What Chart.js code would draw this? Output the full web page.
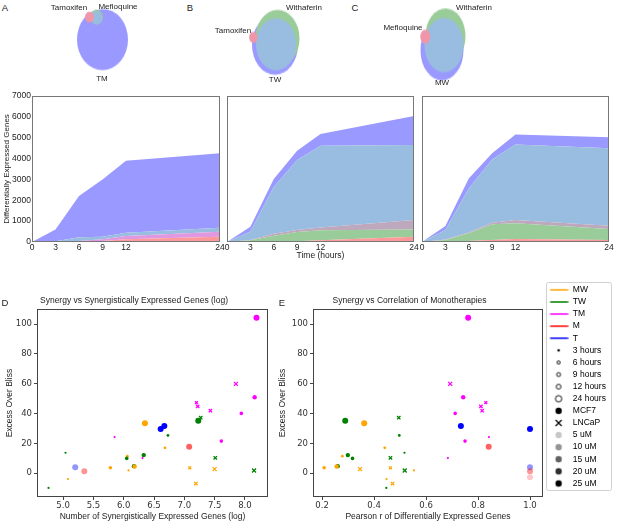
<!DOCTYPE html>
<html>
<head>
<meta charset="utf-8">
<title>Synergy figure</title>
<script src="https://cdn.jsdelivr.net/npm/chart.js@4.4.1/dist/chart.umd.min.js"></script>
<style>
  html, body { margin: 0; padding: 0; background: #fff; }
  body { position: relative; width: 617px; height: 525px; overflow: hidden;
         font-family: 'Liberation Sans', Arial, sans-serif; color: #222; }
  canvas { position: absolute; }
  .venn { position: absolute; transform-origin: 0 0; }
  .venn canvas { position: static; display: block; }
  .txt { position: absolute; transform: translate(-50%, -50%); white-space: nowrap; font-size: 8px; }
  .panel { font-size: 9.5px; }
</style>
</head>
<body>

<div class="venn" id="vennA"><canvas></canvas></div>
<div class="venn" id="vennB"><canvas></canvas></div>
<div class="venn" id="vennC"><canvas></canvas></div>

<canvas id="areaTM" width="232" height="175" style="left:0;top:88px"></canvas>
<canvas id="areaTW" width="211" height="175" style="left:215px;top:88px"></canvas>
<canvas id="areaMW" width="211" height="175" style="left:410px;top:88px"></canvas>

<canvas id="scatterGenes" width="275" height="232" style="left:0;top:293px"></canvas>
<canvas id="scatterPearson" width="275" height="232" style="left:276px;top:293px"></canvas>
<canvas id="legendBox" width="140" height="212" style="left:545px;top:282px"></canvas>

<div class="txt panel" style="left:5px;top:7px">A</div>
<div class="txt panel" style="left:190px;top:7px">B</div>
<div class="txt panel" style="left:355px;top:7px">C</div>
<div class="txt panel" style="left:5px;top:302px">D</div>
<div class="txt panel" style="left:282px;top:302px">E</div>

<div class="txt" style="left:69px;top:7px">Tamoxifen</div>
<div class="txt" style="left:118px;top:6px">Mefloquine</div>
<div class="txt" style="left:102px;top:78px">TM</div>
<div class="txt" style="left:304px;top:7px">Withaferin</div>
<div class="txt" style="left:233px;top:30px">Tamoxifen</div>
<div class="txt" style="left:275px;top:79px">TW</div>
<div class="txt" style="left:474px;top:7px">Withaferin</div>
<div class="txt" style="left:403px;top:27px">Mefloquine</div>
<div class="txt" style="left:442px;top:82px">MW</div>

<script>
/* ================= Data ================= */

const times = [0, 3, 6, 9, 12, 24];
const timeTicks = [0, 3, 6, 9, 12, 24];
const geneTicks = [0, 1000, 2000, 3000, 4000, 5000, 6000, 7000];

// differentially expressed genes per Venn region, stacked bottom -> top
const tmRed       = [0, 5, 20, 50, 130, 250];
const tmPink      = [0, 10, 30, 80, 160, 245];
const tmLightBlue = [0, 25, 175, 125, 155, 190];
const tmBlue      = [0, 560, 1975, 2745, 3455, 3565];

const twRed       = [0, 10, 20, 40, 80, 250];
const twGreen     = [0, 70, 280, 440, 480, 350];
const twMauve     = [0, 20, 100, 100, 130, 450];
const twLightBlue = [0, 400, 2240, 3350, 3930, 3600];
const twBlue      = [0, 230, 380, 450, 560, 1390];

const mwRed       = [0, 10, 50, 100, 140, 100];
const mwGreen     = [0, 90, 370, 750, 755, 520];
const mwMauve     = [0, 20, 30, 75, 155, 160];
const mwLightBlue = [0, 455, 2120, 3035, 3630, 3710];
const mwBlue      = [0, 192, 480, 290, 480, 530];

// scatter points (D and E share them)
const combos = ['TM','TM','TM','TM','TM','TM','TM','TW','TW','MW','T','T','TW','TM','TM','M','MW','TW',
                'TW','TM','MW','TW','TW','TW','MW','T','M','MW','MW','MW','TW','MW','MW','MW','TW','M'];
const hours  = [24,12,12,6,9,9,9,24,9,24,24,24,6,3,9,24,6,3,
                12,3,6,9,9,12,12,24,24,9,6,12,12,3,3,9,3,24];
const cellLines = ['MCF7','LNCaP','MCF7','LNCaP','LNCaP','LNCaP','MCF7','MCF7','LNCaP','MCF7','MCF7','MCF7',
                   'MCF7','MCF7','MCF7','MCF7','MCF7','MCF7','MCF7','MCF7','MCF7','MCF7','LNCaP','MCF7',
                   'MCF7','MCF7','MCF7','MCF7','LNCaP','LNCaP','LNCaP','MCF7','MCF7','LNCaP','MCF7','MCF7'];
const doses  = [25,25,25,25,25,25,25,25,25,25,25,25,25,25,25,15,25,25,
                25,25,25,25,25,25,25,10,10,25,25,25,25,25,25,25,25,5];
const excessOverBliss = [104.3,59.9,50.9,47.3,44.8,41.9,40.1,35.2,37.2,33.4,31.6,29.6,25.3,24.2,21.5,17.7,17.0,13.7,
                         12.1,10.1,11.4,9.9,10.3,4.7,4.5,4.0,1.3,3.6,3.6,2.7,1.8,1.8,-4.0,-7.0,-9.9,-2.7];
const synGenesLog = [8.19,7.85,8.16,7.20,7.22,7.43,7.94,7.23,7.27,6.35,6.67,6.61,6.73,5.85,7.61,7.08,6.68,5.04,
                     6.33,6.31,6.06,6.05,7.51,6.17,6.18,5.20,5.35,5.78,7.09,7.50,8.15,6.08,5.08,7.19,4.76,null];
const pearsonR = [0.762,0.693,0.743,0.830,0.811,0.816,0.712,0.289,0.495,0.362,0.734,1.0,0.497,0.842,0.750,0.841,0.441,0.517,
                  0.299,0.684,0.278,0.317,0.463,0.260,0.256,1.0,1.0,0.208,0.463,0.346,0.518,0.553,0.448,0.471,0.447,1.0];

const synTicks = [5.0, 5.5, 6.0, 6.5, 7.0, 7.5, 8.0];
const pearsonTicks = [0.2, 0.4, 0.6, 0.8, 1.0];
const blissTicks = [0, 20, 40, 60, 80, 100];

const comboNames = ['MW', 'TW', 'TM', 'M', 'T'];
const hourNames = [3, 6, 9, 12, 24];
const doseNames = [5, 10, 15, 20, 25];

/* ================= Styles ================= */

const comboRgb = { MW: '255,165,0', TW: '0,128,0', TM: '255,0,255', M: '255,0,0', T: '0,0,255' };
const doseAlpha = { 5: 0.22, 10: 0.42, 15: 0.62, 20: 0.82, 25: 1 };
const hourRadius = { 3: 1.1, 6: 1.4, 9: 1.8, 12: 2.2, 24: 3 };

const C_RED = '#ff9999', C_PINK = '#e099e0', C_GREEN = '#99cc99',
      C_MAUVE = '#bda8bd', C_LBLUE = '#99bde0', C_BLUE = '#9999ff';

Chart.defaults.font.family = "'Liberation Sans', Arial, sans-serif";
Chart.defaults.font.size = 8.5;
Chart.defaults.color = '#222';
Chart.defaults.layout.autoPadding = false;
Chart.defaults.plugins.legend.display = false;
Chart.defaults.plugins.tooltip.enabled = false;

// box round the plot area
Chart.register({
  id: 'frame',
  afterDraw(chart, args, o) {
    if (!o.color) return;
    const { ctx, chartArea: a } = chart;
    ctx.save();
    ctx.strokeStyle = o.color;
    ctx.lineWidth = 1;
    ctx.strokeRect(Math.round(a.left) + 0.5, Math.round(a.top) + 0.5,
                   Math.round(a.width) - 1, Math.round(a.height) - 1);
    ctx.restore();
  }
});

/* ================= Venn diagrams ================= */

function vennChart(id, left, stretch, circles) {
  const W = 120, H = Math.round(90 / stretch);
  const wrap = document.getElementById(id);
  wrap.style.left = left + 'px';
  wrap.style.top = '0px';
  wrap.style.transform = 'scaleY(' + stretch + ')';
  const cv = wrap.querySelector('canvas');
  cv.width = W; cv.height = H;
  new Chart(cv, {
    type: 'bubble',
    data: { datasets: [{
      data: circles.map(c => ({ x: c[0], y: c[1], r: c[2] })),
      backgroundColor: circles.map(c => c[3]),
      borderWidth: 0, hoverRadius: 0
    }] },
    options: {
      responsive: false, animation: false,
      scales: {
        x: { display: false, min: -W / 2, max: W / 2 },
        y: { display: false, min: -H / 2, max: H / 2, reverse: true }
      }
    }
  });
}

// [x, y, radius, colour] around each diagram's centre
vennChart('vennA', 45, 1.2, [
  [-2.5, -4.6, 25.5, C_BLUE],
  [-8.3, -23.2, 6.2, C_GREEN],
  [-8.3, -22.6, 5.6, C_LBLUE],
  [-15.5, -23.2, 4.5, '#f096aa']
]);
vennChart('vennB', 215, 1.3, [
  [0, 0, 23, C_BLUE],
  [2.5, -5, 22, C_GREEN],
  [1, -0.5, 20, C_LBLUE],
  [-21.7, -5.8, 4.2, '#f096aa']
]);
vennChart('vennC', 385, 1.4, [
  [-3, 3.9, 21.5, C_BLUE],
  [0.5, -6.1, 20, C_GREEN],
  [-1, 0.2, 19.5, C_LBLUE],
  [-19.7, -5.7, 5, '#f096aa']
]);

/* ================= Stacked area charts ================= */

function areaChart(id, layers, first) {
  new Chart(document.getElementById(id), {
    type: 'line',
    data: {
      datasets: layers.map((l, i) => ({
        data: times.map((t, j) => ({ x: t, y: l[0][j] })),
        backgroundColor: l[1],
        fill: i === 0 ? 'origin' : '-1',
        borderWidth: 0, pointRadius: 0, tension: 0
      }))
    },
    options: {
      responsive: false, animation: false,
      layout: { padding: { top: 8, right: 12 } },
      plugins: { frame: { color: '#777' } },
      scales: {
        x: {
          type: 'linear', min: 0, max: 24,
          grid: { display: false, drawTicks: false, tickLength: 0 }, border: { display: false },
          afterBuildTicks: s => { s.ticks = timeTicks.map(v => ({ value: v })); },
          ticks: { autoSkip: false, maxRotation: 0, padding: 1, callback: v => String(v) },
          title: { display: id === 'areaTW', text: 'Time (hours)', padding: { top: 0, bottom: 2 } },
          afterFit: s => { s.height = 21; s.paddingLeft = 0; s.paddingRight = 0; }
        },
        y: {
          stacked: true, min: 0, max: 7000,
          grid: { display: false, drawTicks: false, tickLength: 0 }, border: { display: false },
          afterBuildTicks: s => { s.ticks = geneTicks.map(v => ({ value: v })); },
          ticks: { display: first, padding: 1, callback: v => String(v) },
          title: { display: first, text: 'Differentially Expressed Genes', font: { size: 8 },
                   padding: { top: 2, bottom: 0 } },
          afterFit: s => { s.width = first ? 32 : 12; s.paddingTop = 0; s.paddingBottom = 0; }
        }
      }
    }
  });
}

areaChart('areaTM', [[tmRed, C_RED], [tmPink, C_PINK], [tmLightBlue, C_LBLUE], [tmBlue, C_BLUE]], true);
areaChart('areaTW', [[twRed, C_RED], [twGreen, C_GREEN], [twMauve, C_MAUVE], [twLightBlue, C_LBLUE], [twBlue, C_BLUE]], false);
areaChart('areaMW', [[mwRed, C_RED], [mwGreen, C_GREEN], [mwMauve, C_MAUVE], [mwLightBlue, C_LBLUE], [mwBlue, C_BLUE]], false);

/* ================= Scatter charts ================= */

function scatterChart(id, xs, cfg) {
  const idx = xs.map((v, i) => i).filter(i => xs[i] !== null);
  const isX = i => cellLines[i] === 'LNCaP';
  const col = i => 'rgba(' + comboRgb[combos[i]] + ',' + doseAlpha[doses[i]] + ')';
  const tickFont = { family: "'DejaVu Sans', sans-serif", size: 8.5 };
  new Chart(document.getElementById(id), {
    type: 'scatter',
    data: { datasets: [{
      data: idx.map(i => ({ x: xs[i], y: excessOverBliss[i] })),
      pointStyle: idx.map(i => isX(i) ? 'crossRot' : 'circle'),
      pointRadius: idx.map(i => hourRadius[hours[i]] + (isX(i) ? 0.6 : 0)),
      pointBackgroundColor: idx.map(col),
      pointBorderColor: idx.map(col),
      pointBorderWidth: idx.map(i => isX(i) ? 1.3 : 0)
    }] },
    options: {
      responsive: false, animation: false,
      layout: { padding: { right: cfg.right } },
      plugins: {
        frame: { color: '#444' },
        title: { display: true, text: cfg.title, padding: { top: 3, bottom: 3 }, font: { weight: 'normal' } }
      },
      scales: {
        x: {
          type: 'linear', min: cfg.min, max: cfg.max,
          grid: { drawOnChartArea: false, tickLength: 3, color: '#444' }, border: { display: false },
          afterBuildTicks: s => { s.ticks = cfg.ticks.map(v => ({ value: v })); },
          ticks: { autoSkip: false, maxRotation: 0, padding: 1, color: '#333', font: tickFont,
                   callback: v => v.toFixed(1) },
          title: { display: true, text: cfg.xTitle, padding: { top: 0, bottom: 3 } },
          afterFit: s => { s.height = 28; s.paddingLeft = 0; s.paddingRight = 0; }
        },
        y: {
          min: -16, max: 110,
          grid: { drawOnChartArea: false, tickLength: 3, color: '#444' }, border: { display: false },
          afterBuildTicks: s => { s.ticks = blissTicks.map(v => ({ value: v })); },
          ticks: { padding: 2, color: '#333', font: tickFont },
          title: { display: true, text: 'Excess Over Bliss', padding: { top: cfg.yPad, bottom: 0 } },
          afterFit: s => { s.width = 37; s.paddingTop = 0; s.paddingBottom = 0; }
        }
      }
    }
  });
}

scatterChart('scatterGenes', synGenesLog, {
  title: 'Synergy vs Synergistically Expressed Genes (log)',
  xTitle: 'Number of Synergistically Expressed Genes (log)',
  min: 4.57, max: 8.38, ticks: synTicks, right: 7, yPad: 5
});
scatterChart('scatterPearson', pearsonR, {
  title: 'Synergy vs Correlation of Monotherapies',
  xTitle: 'Pearson r of Differentially Expressed Genes',
  min: 0.165, max: 1.05, ticks: pearsonTicks, right: 8, yPad: 2
});

/* ================= Legend ================= */

function marker(draw) {
  const c = document.createElement('canvas');
  c.width = 20; c.height = 10;
  draw(c.getContext('2d'));
  return c;
}
function dot(r, fill, open) {
  return marker(g => {
    g.beginPath(); g.arc(10, 5, r, 0, Math.PI * 2);
    if (open) { g.fillStyle = '#fff'; g.fill(); g.lineWidth = 0.9; g.strokeStyle = '#000'; g.stroke(); }
    else { g.fillStyle = fill; g.fill(); }
  });
}

const legendItems = [].concat(
  comboNames.map(n => ({ text: n, style: marker(g => {
    g.strokeStyle = 'rgb(' + comboRgb[n] + ')'; g.lineWidth = 1.5;
    g.beginPath(); g.moveTo(1.5, 5); g.lineTo(19.5, 5); g.stroke();
  }) })),
  hourNames.map(h => ({ text: h + ' hours', style: dot(hourRadius[h] + 0.2, '#000', h !== 3) })),
  [{ text: 'MCF7', style: dot(3.2, '#000', false) },
   { text: 'LNCaP', style: marker(g => {
     g.strokeStyle = '#000'; g.lineWidth = 1.3; g.beginPath();
     g.moveTo(7, 2); g.lineTo(13, 8); g.moveTo(13, 2); g.lineTo(7, 8); g.stroke();
   }) }],
  doseNames.map(d => ({ text: d + ' uM', style: dot(3.2, 'rgba(0,0,0,' + doseAlpha[d] + ')', false) }))
);

new Chart(document.getElementById('legendBox'), {
  type: 'scatter',
  data: { datasets: [] },
  options: {
    responsive: false, animation: false,
    scales: { x: { display: false }, y: { display: false } },
    plugins: {
      legend: {
        display: true, position: 'left', align: 'start',
        labels: {
          usePointStyle: true, pointStyleWidth: 20, boxHeight: 8, padding: 3.6,
          color: '#222', font: { size: 8.5 },
          generateLabels: () => legendItems.map(it => ({
            text: it.text, pointStyle: it.style, fillStyle: '#000',
            strokeStyle: '#000', lineWidth: 0, hidden: false
          }))
        }
      }
    }
  },
  plugins: [{
    id: 'legendBorder',
    afterDraw(chart) {
      const l = chart.legend, ctx = chart.ctx;
      ctx.save();
      ctx.strokeStyle = '#d0d0d0'; ctx.lineWidth = 1;
      ctx.beginPath();
      ctx.roundRect(Math.round(l.left) + 1.5, Math.round(l.top) + 0.5, 65, 208, 2);
      ctx.stroke();
      ctx.restore();
    }
  }]
});
</script>
</body>
</html>
